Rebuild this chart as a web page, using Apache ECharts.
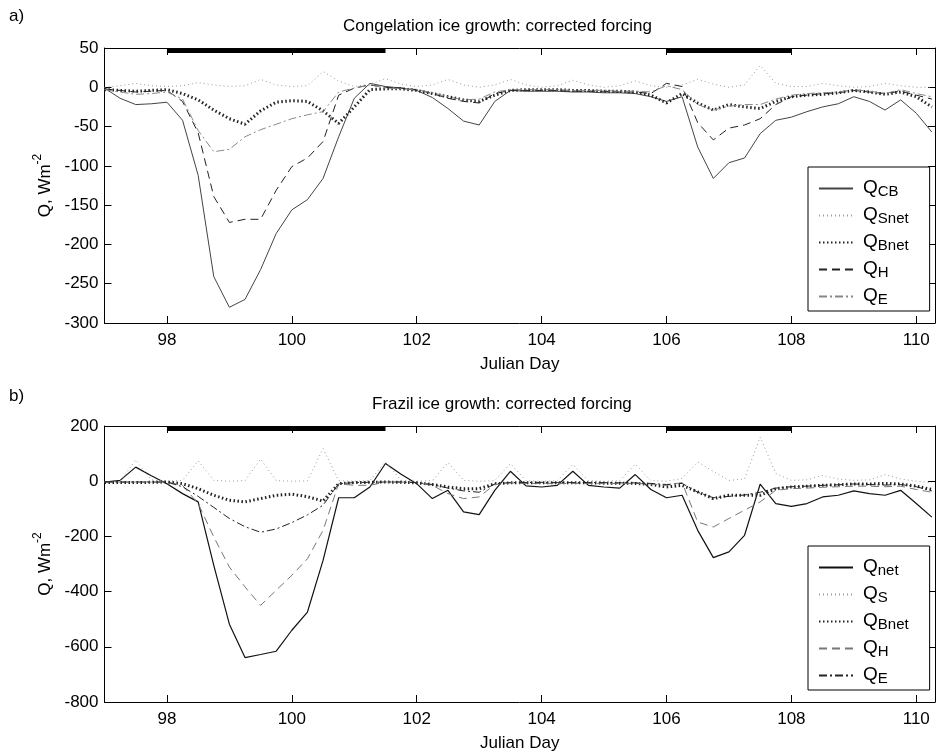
<!DOCTYPE html>
<html>
<head>
<meta charset="utf-8">
<script src="https://cdn.jsdelivr.net/npm/echarts@6/dist/echarts.min.js"></script>
<style>
  html, body { margin: 0; padding: 0; background: #fff; }
  #chart { width: 936px; height: 753px; }
</style>
</head>
<body>
<div id="chart"></div>
<script>
// Julian day of each sample (6-hourly)
const days = [
  97, 97.25, 97.5, 97.75, 98, 98.25, 98.5, 98.75, 99, 99.25, 99.5, 99.75,
  100, 100.25, 100.5, 100.75, 101, 101.25, 101.5, 101.75, 102, 102.25, 102.5, 102.75,
  103, 103.25, 103.5, 103.75, 104, 104.25, 104.5, 104.75, 105, 105.25, 105.5, 105.75,
  106, 106.25, 106.5, 106.75, 107, 107.25, 107.5, 107.75, 108, 108.25, 108.5, 108.75,
  109, 109.25, 109.5, 109.75, 110, 110.25
];
const dayTicks = [98, 100, 102, 104, 106, 108, 110];
// periods marked by the black bar on top of each panel
const periods = [[98, 101.5], [106, 108]];

// a) congelation ice growth
const qCB = [
  -1, -14, -22, -21, -19, -42, -112, -241, -280, -270, -232, -186,
  -156, -143, -116, -63, -14, 5, 1, -1, -4, -13, -27, -43,
  -48, -18, -4, -5, -5, -5, -6, -6, -7, -7, -8, -12,
  -18, -12, -76, -116, -96, -90, -59, -42, -38, -31, -25, -21,
  -12, -18, -29, -16, -33, -57
];
const qSnet = [
  0, 2, 5, 2, 1, 2, 6, 3, 1, 2, 10, 3,
  1, 2, 20, 8, 1, 4, 11, 4, 1, 3, 10, 3,
  0, 3, 10, 3, 0, 2, 9, 3, 0, 2, 8, 2,
  0, 3, 10, 4, 0, 3, 28, 5, 1, 1, 5, 2,
  0, 1, 5, 2, 0, 0
];
const qBnetA = [
  -3, -4, -5, -4, -3, -8, -16, -29, -40, -47, -30, -19,
  -17, -18, -30, -46, -25, -3, -2, -2, -4, -8, -12, -16,
  -18, -10, -4, -3, -3, -3, -4, -4, -5, -5, -6, -10,
  -20, -8, -20, -29, -22, -25, -27, -18, -12, -10, -9, -7,
  -4, -6, -9, -6, -12, -25
];
const qHA = [
  -2, -4, -6, -5, -4, -18, -58, -139, -172, -168, -168, -131,
  -101, -90, -69, -10, -1, 3, 0, -1, -3, -8, -14, -18,
  -20, -8, -4, -4, -4, -4, -5, -5, -5, -6, -6, -8,
  5, 1, -45, -67, -52, -48, -40, -22, -12, -10, -8, -7,
  -4, -6, -8, -5, -10, -15
];
const qEA = [
  -3, -6, -9, -8, -6, -15, -55, -82, -79, -63, -54, -47,
  -40, -35, -31, -6, -1, 3, -1, -2, -3, -7, -12, -16,
  -15, -6, -3, -3, -3, -3, -4, -4, -4, -5, -5, -6,
  2, -3, -22, -29, -24, -22, -22, -15, -10, -8, -7, -6,
  -3, -5, -8, -3, -8, -12
];

// b) frazil ice growth
const qNet = [
  -3, 3, 51, 20, -9, -45, -75, -305, -518, -639, -628, -616,
  -540, -474, -287, -60, -60, -21, 64, 25, -9, -63, -33, -111,
  -121, -33, 36, -17, -21, -15, 36, -15, -21, -25, 24, -30,
  -60, -51, -178, -277, -256, -196, -11, -81, -91, -81, -57, -51,
  -35, -45, -51, -33, -81, -130
];
const qS = [
  -2, 0, 77, 5, 0, 3, 74, 3, 0, 2, 80, 2,
  0, 1, 118, 2, 0, 2, 71, 3, 0, 2, 68, 3,
  0, 2, 64, 2, 0, 2, 60, 2, 0, 2, 62, 2,
  0, 10, 70, 35, 3, 8, 160, 28, 3, 5, 21, 8,
  3, 5, 24, 8, 0, -5
];
const qBnetB = [
  -5, -5, -5, -4, -3, -9, -27, -51, -69, -75, -63, -51,
  -47, -56, -72, -9, -5, -4, -3, -4, -6, -12, -21, -27,
  -27, -9, -6, -6, -6, -6, -6, -6, -7, -7, -8, -12,
  -21, -15, -39, -63, -51, -51, -51, -27, -21, -18, -15, -13,
  -10, -10, -8, -10, -18, -30
];
const qHB = [
  -3, -3, -3, -3, -3, -15, -81, -202, -311, -383, -450, -395,
  -341, -281, -178, -9, -15, -15, -3, -3, -5, -15, -45, -63,
  -57, -12, -6, -8, -8, -8, -8, -8, -8, -8, -8, -10,
  -15, -5, -148, -166, -135, -105, -75, -33, -27, -25, -22, -20,
  -18, -18, -20, -18, -30, -40
];
const qEB = [
  -3, -3, -3, -3, -3, -20, -55, -95, -135, -165, -185, -173,
  -150, -122, -87, -9, -5, -4, -3, -3, -5, -12, -25, -35,
  -40, -10, -5, -5, -5, -5, -5, -5, -5, -6, -6, -8,
  -12, -8, -40, -60, -55, -50, -40, -25, -20, -18, -15, -13,
  -10, -12, -14, -12, -20, -35
];

const font = "'Liberation Sans', Arial, sans-serif";
const panels = [
  { title: "Congelation ice growth: corrected forcing", tag: "a)", top: 48, height: 275,
    min: -300, max: 50, interval: 50, titleLeft: 343, titleTop: 18, tagTop: 8, legendTop: 167,
    lines: [
      { name: "a:CB", data: qCB, color: "#444", width: 1, type: "solid" },
      { name: "a:Snet", data: qSnet, color: "#999", width: 1, type: [1, 3] },
      { name: "a:Bnet", data: qBnetA, color: "#222", width: 3, type: [1.5, 2.5] },
      { name: "a:H", data: qHA, color: "#222", width: 1, type: [8, 5] },
      { name: "a:E", data: qEA, color: "#888", width: 1, type: [8, 3, 2, 3] }
    ] },
  { title: "Frazil ice growth: corrected forcing", tag: "b)", top: 426, height: 276,
    min: -800, max: 200, interval: 200, titleLeft: 372, titleTop: 396, tagTop: 388, legendTop: 546,
    lines: [
      { name: "b:net", data: qNet, color: "#111", width: 1.2, type: "solid" },
      { name: "b:S", data: qS, color: "#999", width: 1, type: [1, 3] },
      { name: "b:Bnet", data: qBnetB, color: "#222", width: 3, type: [1.5, 2.5] },
      { name: "b:H", data: qHB, color: "#777", width: 1, type: [8, 5] },
      { name: "b:E", data: qEB, color: "#222", width: 1, type: [8, 3, 2, 3] }
    ] }
];

const grid = [], xAxis = [], yAxis = [], series = [], legend = [], title = [];
const axisLine = { show: true, onZero: false, lineStyle: { color: "#000", width: 1 } };

panels.forEach((p, k) => {
  grid.push({ left: 104.5, top: p.top, width: 830.5, height: p.height });
  title.push({ text: p.title, left: p.titleLeft, top: p.titleTop, padding: 0,
    textStyle: { fontFamily: font, fontSize: 17, fontWeight: "normal", color: "#000" } });
  title.push({ text: p.tag, left: 9, top: p.tagTop, padding: 0,
    textStyle: { fontFamily: font, fontSize: 17, fontWeight: "normal", color: "#000" } });

  xAxis.push({
    type: "value", gridIndex: k, min: 97, max: 110.3, position: "bottom",
    axisLine, splitLine: { show: false },
    axisTick: { inside: true, length: 7, customValues: dayTicks, lineStyle: { color: "#000" } },
    axisLabel: { customValues: dayTicks, margin: 9, fontFamily: font, fontSize: 17, color: "#000" },
    name: "Julian Day", nameLocation: "middle", nameGap: 33,
    nameTextStyle: { fontFamily: font, fontSize: 17, color: "#000" }
  });
  xAxis.push({
    type: "value", gridIndex: k, min: 97, max: 110.3, position: "top",
    axisLine, splitLine: { show: false },
    axisTick: { inside: true, length: 7, customValues: dayTicks, lineStyle: { color: "#000" } },
    axisLabel: { show: false }
  });
  yAxis.push({
    type: "value", gridIndex: k, min: p.min, max: p.max, interval: p.interval, position: "left",
    axisLine, splitLine: { show: false },
    axisTick: { inside: true, length: 7, lineStyle: { color: "#000" } },
    axisLabel: { margin: 6, fontFamily: font, fontSize: 17, color: "#000" },
    name: "{n|Q, Wm}{sup|-2}", nameLocation: "middle", nameGap: 43,
    nameTextStyle: { fontFamily: font, fontSize: 17, color: "#000",
      rich: { n: { fontFamily: font, fontSize: 17, color: "#000", verticalAlign: "bottom", lineHeight: 22 },
              sup: { fontFamily: font, fontSize: 12, color: "#000", verticalAlign: "top", lineHeight: 22 } } }
  });
  yAxis.push({
    type: "value", gridIndex: k, min: p.min, max: p.max, interval: p.interval, position: "right",
    axisLine, splitLine: { show: false },
    axisTick: { inside: true, length: 7, lineStyle: { color: "#000" } },
    axisLabel: { show: false }
  });

  p.lines.forEach((l) => {
    series.push({
      name: l.name, type: "line", xAxisIndex: 2 * k, yAxisIndex: 2 * k,
      symbol: "none", animation: false,
      lineStyle: { color: l.color, width: l.width, type: l.type },
      itemStyle: { color: l.color },
      data: days.map((d, i) => [d, l.data[i]])
    });
  });

  // thick bars along the top edge
  const barLevel = p.max - (p.max - p.min) / p.height * 2.5;
  periods.forEach((pr) => {
    series.push({
      type: "line", xAxisIndex: 2 * k, yAxisIndex: 2 * k, symbol: "none", animation: false,
      clip: false, silent: true,
      lineStyle: { color: "#000", width: 5, cap: "butt" },
      data: [[pr[0], barLevel], [pr[1], barLevel]]
    });
  });

  legend.push({
    orient: "vertical", left: 808, top: p.legendTop,
    padding: [6, 21, 4, 10], itemGap: 1, itemWidth: 34, itemHeight: 14,
    borderColor: "#000", borderWidth: 1, backgroundColor: "#fff",
    selectedMode: false,
    itemStyle: { opacity: 0 },
    data: p.lines.map((l) => l.name),
    formatter: (name) => "{q|Q}{s|" + name.split(":")[1] + "}",
    textStyle: {
      fontFamily: font, color: "#000",
      rich: {
        q: { fontFamily: font, fontSize: 19, color: "#000", padding: [0, 0, 0, 5], verticalAlign: "top", lineHeight: 21 },
        s: { fontFamily: font, fontSize: 15, color: "#000", verticalAlign: "bottom", lineHeight: 15, padding: [11, 0, 0, 0] }
      }
    }
  });
});

const chart = echarts.init(document.getElementById("chart"), null, { renderer: "canvas" });
chart.setOption({
  backgroundColor: "#fff",
  animation: false,
  title, grid, xAxis, yAxis, legend, series
});
</script>
</body>
</html>
